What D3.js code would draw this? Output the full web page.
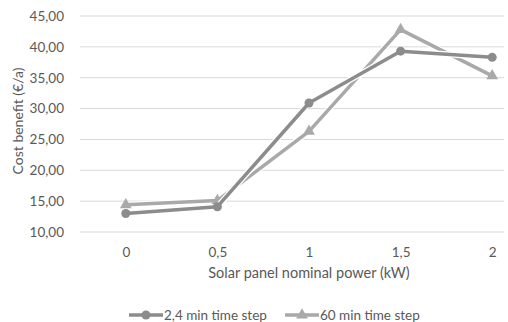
<!DOCTYPE html>
<html>
<head>
<meta charset="utf-8">
<script src="https://cdn.jsdelivr.net/npm/d3@7"></script>
<style>
  html, body { margin: 0; padding: 0; background: #fff; }
  svg { display: block; font-family: Lato, "Open Sans", "Liberation Sans", sans-serif; }
</style>
</head>
<body>
<svg id="chart" width="508" height="322"></svg>
<script>
// Solar panel nominal power categories (kW)
const categories = ["0", "0,5", "1", "1,5", "2"];
// Cost benefit (€/a) for each simulation time step
const step24 = [13.0, 14.1, 30.9, 39.3, 38.3];
const step60 = [14.4, 15.1, 26.3, 42.8, 35.3];
const yTicks = [10, 15, 20, 25, 30, 35, 40, 45];
const seriesNames = ["2,4 min time step", "60 min time step"];

const svg = d3.select("#chart");
const textColor = "#595959";
const gridColor = "#d9d9d9";
const colors = ["#8c8c8c", "#a9a9a9"];
const font = "Lato, 'Open Sans', sans-serif";

const plotLeft = 80, plotRight = 504, plotTop = 16, plotBottom = 232;

const x = d3.scalePoint().domain(categories).range([plotLeft, 538]).padding(0.5);
const y = d3.scaleLinear().domain([10, 45]).range([plotBottom, plotTop]);

// horizontal gridlines
svg.append("g").selectAll("line").data(yTicks).join("line")
  .attr("x1", plotLeft).attr("x2", plotRight)
  .attr("y1", d => y(d)).attr("y2", d => y(d))
  .attr("stroke", gridColor).attr("stroke-width", 1);

// y axis labels
const fmt = v => v.toFixed(2).replace(".", ",");
const yAxis = svg.append("g").attr("transform", `translate(${plotLeft - 16},0)`)
  .call(d3.axisLeft(y).tickValues(yTicks).tickFormat(fmt).tickSize(0).tickPadding(0));
yAxis.select(".domain").remove();
yAxis.selectAll("text").attr("fill", textColor).attr("font-size", 13.5)
  .attr("font-family", font);

// x axis labels
const xAxis = svg.append("g").attr("transform", `translate(0,${plotBottom + 12})`)
  .call(d3.axisBottom(x).tickSize(0).tickPadding(3));
xAxis.select(".domain").remove();
xAxis.selectAll("text").attr("fill", textColor).attr("font-size", 13.5)
  .attr("font-family", font);

// axis titles
svg.append("text")
  .attr("x", 309).attr("y", 278)
  .attr("text-anchor", "middle").attr("fill", textColor).attr("font-size", 14.5)
  .text("Solar panel nominal power (kW)");
svg.append("text")
  .attr("transform", "translate(23,121) rotate(-90)")
  .attr("text-anchor", "middle").attr("fill", textColor).attr("font-size", 14)
  .text("Cost benefit (€/a)");

const seriesData = [step24, step60];
const line = d3.line().x((d, i) => x(categories[i])).y(d => y(d));
const tri = d3.symbol().type(d3.symbolTriangle).size(60);

// lighter series underneath, darker series on top
[1, 0].forEach(s => {
  const g = svg.append("g");
  g.append("path").datum(seriesData[s]).attr("d", line)
    .attr("fill", "none").attr("stroke", "#fff").attr("stroke-width", 6)
    .attr("stroke-linejoin", "round");
  g.append("path").datum(seriesData[s]).attr("d", line)
    .attr("fill", "none").attr("stroke", colors[s]).attr("stroke-width", 3.5)
    .attr("stroke-linejoin", "round");
  if (s === 0) {
    g.selectAll("circle").data(seriesData[s]).join("circle")
      .attr("cx", (d, i) => x(categories[i])).attr("cy", d => y(d))
      .attr("r", 4.5).attr("fill", colors[s]);
  } else {
    g.selectAll("path.m").data(seriesData[s]).join("path").attr("class", "m")
      .attr("transform", (d, i) => `translate(${x(categories[i])},${y(d)})`)
      .attr("d", tri).attr("fill", colors[s]);
  }
});

// legend
const legend = svg.append("g").attr("transform", "translate(0,315)");
const items = [{x0: 129, s: 0}, {x0: 285, s: 1}];
items.forEach(it => {
  legend.append("line").attr("x1", it.x0).attr("x2", it.x0 + 34)
    .attr("y1", 0).attr("y2", 0).attr("stroke", colors[it.s]).attr("stroke-width", 3.5);
  if (it.s === 0) {
    legend.append("circle").attr("cx", it.x0 + 17).attr("cy", 0).attr("r", 4.5).attr("fill", colors[0]);
  } else {
    legend.append("path").attr("transform", `translate(${it.x0 + 17},0)`).attr("d", tri).attr("fill", colors[1]);
  }
  legend.append("text").attr("x", it.x0 + 35).attr("y", 4.5)
    .attr("fill", textColor).attr("font-size", 13.5).text(seriesNames[it.s]);
});
</script>
</body>
</html>
